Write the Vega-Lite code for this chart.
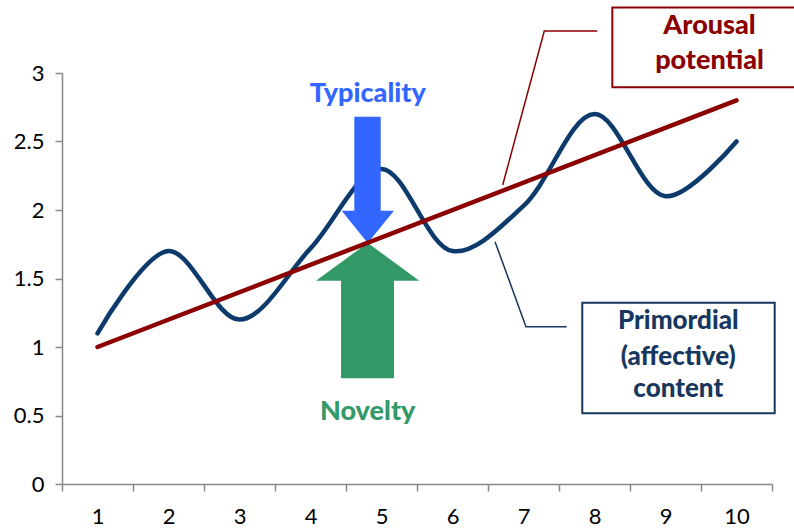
{
  "$schema": "https://vega.github.io/schema/vega-lite/v6.json",
  "width": 710,
  "height": 411,
  "autosize": {"type": "none"},
  "padding": {"left": 62, "top": 73, "right": 22, "bottom": 44},
  "background": "white",
  "config": {"view": {"stroke": null}, "font": "Lato"},
  "datasets": {
    "primordial": [
      {"x": 1, "y": 1.1}, {"x": 2, "y": 1.7}, {"x": 3, "y": 1.2}, {"x": 4, "y": 1.72}, {"x": 5, "y": 2.3},
      {"x": 6, "y": 1.7}, {"x": 7, "y": 2.03}, {"x": 8, "y": 2.7}, {"x": 9, "y": 2.1}, {"x": 10, "y": 2.5}
    ],
    "arousal": [{"x": 1, "y": 1.0}, {"x": 10, "y": 2.8}],
    "typShaft": [{"x": 4.617, "x2": 4.989, "y": 2.681, "y2": 1.98}],
    "typHead": [{"x": 4.439, "y": 1.995, "y2": 1.995}, {"x": 4.806, "y": 1.995, "y2": 1.76}, {"x": 5.176, "y": 1.995, "y2": 1.995}],
    "novShaft": [{"x": 4.43, "x2": 5.176, "y": 1.5, "y2": 0.772}],
    "novHead": [{"x": 4.077, "y": 1.484, "y2": 1.484}, {"x": 4.806, "y": 1.76, "y2": 1.484}, {"x": 5.532, "y": 1.484, "y2": 1.484}],
    "arousalCallout": [{"x": 6.707, "y": 2.182}, {"x": 7.293, "y": 3.307}, {"x": 8.039, "y": 3.307}],
    "primCallout": [{"x": 6.599, "y": 1.769}, {"x": 7.035, "y": 1.148}, {"x": 7.608, "y": 1.148}],
    "arousalBox": [{"x": 8.251, "x2": 11.2, "y": 3.479, "y2": 2.896}],
    "primBox": [{"x": 7.828, "x2": 10.538, "y": 1.323, "y2": 0.516}],
    "arousalText": [{"x": 9.62, "y": 3.34, "text": "Arousal"}, {"x": 9.62, "y": 3.085, "text": "potential"}],
    "primText": [{"x": 9.18, "y": 1.19, "text": "Primordial"}, {"x": 9.18, "y": 0.93, "text": "(affective)"}, {"x": 9.18, "y": 0.695, "text": "content"}],
    "typText": [{"x": 4.806, "y": 2.85, "text": "Typicality"}],
    "novText": [{"x": 4.806, "y": 0.525, "text": "Novelty"}]
  },
  "encoding": {
    "x": {
      "field": "x", "type": "quantitative",
      "scale": {"domain": [0.5, 10.5], "nice": false, "zero": false},
      "axis": {
        "title": null, "grid": false,
        "values": [0.5, 1, 1.5, 2, 2.5, 3, 3.5, 4, 4.5, 5, 5.5, 6, 6.5, 7, 7.5, 8, 8.5, 9, 9.5, 10, 10.5],
        "labelExpr": "datum.value % 1 === 0 ? format(datum.value, 'd') : ''",
        "tickOpacity": {"condition": {"test": "datum.value % 1 === 0", "value": 0}, "value": 1},
        "labelOverlap": false, "labelFlush": false,
        "domainColor": "#888888", "domainWidth": 1.5,
        "tickColor": "#888888", "tickWidth": 1.5, "tickSize": 7,
        "labelFont": "Lato", "labelFontSize": 22, "labelColor": "#000000", "labelPadding": 15
      }
    },
    "y": {
      "field": "y", "type": "quantitative",
      "scale": {"domain": [0, 3], "nice": false, "zero": false},
      "axis": {
        "title": null, "grid": false,
        "values": [0, 0.5, 1, 1.5, 2, 2.5, 3],
        "format": "~g",
        "domainColor": "#888888", "domainWidth": 1.5,
        "tickColor": "#888888", "tickWidth": 1.5, "tickSize": 7,
        "labelFont": "Lato", "labelFontSize": 22, "labelColor": "#000000", "labelPadding": 11
      }
    }
  },
  "layer": [
    {
      "data": {"name": "primordial"},
      "mark": {"type": "line", "interpolate": "catmull-rom", "color": "#0b3a6b", "strokeWidth": 4.5, "strokeCap": "round"}
    },
    {
      "data": {"name": "typShaft"},
      "mark": {"type": "rect", "color": "#3366ff"},
      "encoding": {"x2": {"field": "x2"}, "y2": {"field": "y2"}}
    },
    {
      "data": {"name": "typHead"},
      "mark": {"type": "area", "color": "#3366ff", "interpolate": "linear"},
      "encoding": {"y2": {"field": "y2"}}
    },
    {
      "data": {"name": "novShaft"},
      "mark": {"type": "rect", "color": "#339966"},
      "encoding": {"x2": {"field": "x2"}, "y2": {"field": "y2"}}
    },
    {
      "data": {"name": "novHead"},
      "mark": {"type": "area", "color": "#339966", "interpolate": "linear"},
      "encoding": {"y2": {"field": "y2"}}
    },
    {
      "data": {"name": "arousal"},
      "mark": {"type": "line", "color": "#8b0000", "strokeWidth": 4.5, "strokeCap": "round"}
    },
    {
      "data": {"name": "arousalCallout"},
      "mark": {"type": "line", "color": "#8b0000", "strokeWidth": 1.5}
    },
    {
      "data": {"name": "primCallout"},
      "mark": {"type": "line", "color": "#17375e", "strokeWidth": 1.5}
    },
    {
      "data": {"name": "arousalBox"},
      "mark": {"type": "rect", "fill": "white", "stroke": "#8b0000", "strokeWidth": 2},
      "encoding": {"x2": {"field": "x2"}, "y2": {"field": "y2"}}
    },
    {
      "data": {"name": "primBox"},
      "mark": {"type": "rect", "fill": "white", "stroke": "#17375e", "strokeWidth": 2},
      "encoding": {"x2": {"field": "x2"}, "y2": {"field": "y2"}}
    },
    {
      "data": {"name": "arousalText"},
      "mark": {"type": "text", "color": "#8b0000", "font": "Lato", "fontWeight": 900, "fontSize": 27, "align": "center", "baseline": "middle"},
      "encoding": {"text": {"field": "text"}}
    },
    {
      "data": {"name": "primText"},
      "mark": {"type": "text", "color": "#17375e", "font": "Lato", "fontWeight": 900, "fontSize": 26, "align": "center", "baseline": "middle"},
      "encoding": {"text": {"field": "text"}}
    },
    {
      "data": {"name": "typText"},
      "mark": {"type": "text", "color": "#3366ff", "font": "Lato", "fontWeight": 900, "fontSize": 27, "align": "center", "baseline": "middle"},
      "encoding": {"text": {"field": "text"}}
    },
    {
      "data": {"name": "novText"},
      "mark": {"type": "text", "color": "#339966", "font": "Lato", "fontWeight": 900, "fontSize": 27, "align": "center", "baseline": "middle"},
      "encoding": {"text": {"field": "text"}}
    }
  ]
}
